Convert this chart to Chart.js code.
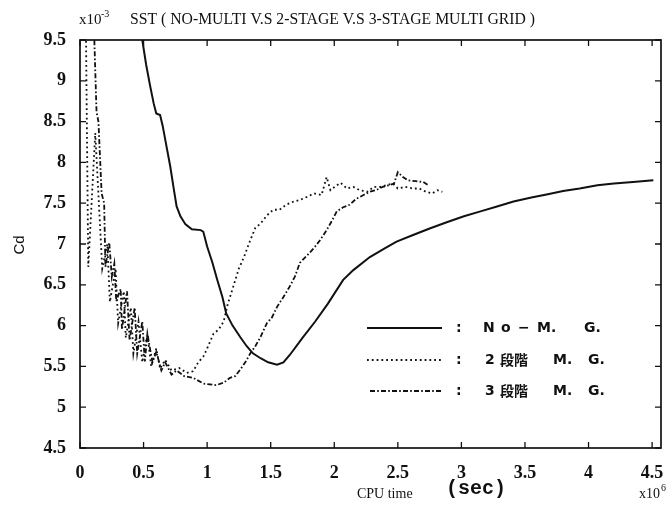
<!DOCTYPE html>
<html>
<head>
<meta charset="utf-8">
<script src="https://cdn.jsdelivr.net/npm/chart.js@4/dist/chart.umd.min.js"></script>
<style>
html,body{margin:0;padding:0;background:#fff;}
#wrap{position:relative;width:672px;height:509px;}
</style>
</head>
<body>
<div id="wrap"><canvas id="c" width="672" height="509"></canvas></div>
<script>
// ---- data ----
const xTickValues = [0, 0.5, 1, 1.5, 2, 2.5, 3, 3.5, 4, 4.5];
const xTickLabels = ['0', '0.5', '1', '1.5', '2', '2.5', '3', '3.5', '4', '4.5'];
const yTickValues = [4.5, 5, 5.5, 6, 6.5, 7, 7.5, 8, 8.5, 9, 9.5];
const yTickLabels = ['4.5', '5', '5.5', '6', '6.5', '7', '7.5', '8', '8.5', '9', '9.5'];

const seriesNames = ['N o − M.  G.', '2 段階  M.  G.', '3 段階  M.  G.'];

const noMgX = [0.48, 0.49, 0.52, 0.55, 0.58, 0.60, 0.63, 0.65, 0.68, 0.71, 0.74, 0.76, 0.79, 0.83, 0.88, 0.95, 0.97, 1.00, 1.04, 1.08, 1.12, 1.15, 1.20, 1.26, 1.31, 1.36, 1.42, 1.48, 1.55, 1.60, 1.65, 1.75, 1.85, 1.95, 2.07, 2.15, 2.28, 2.40, 2.49, 2.62, 2.75, 2.89, 3.02, 3.15, 3.28, 3.41, 3.55, 3.68, 3.80, 3.93, 4.07, 4.20, 4.35, 4.51];
const noMgY = [9.62, 9.50, 9.20, 8.95, 8.72, 8.60, 8.58, 8.45, 8.20, 7.95, 7.65, 7.46, 7.34, 7.24, 7.18, 7.17, 7.15, 6.97, 6.78, 6.56, 6.35, 6.15, 6.00, 5.86, 5.75, 5.66, 5.60, 5.55, 5.52, 5.55, 5.64, 5.85, 6.05, 6.27, 6.56, 6.68, 6.84, 6.95, 7.03, 7.11, 7.19, 7.27, 7.34, 7.40, 7.46, 7.52, 7.57, 7.61, 7.65, 7.68, 7.72, 7.74, 7.76, 7.78];

const stage2X = [0.045, 0.065, 0.12, 0.175, 0.215, 0.235, 0.28, 0.30, 0.345, 0.36, 0.40, 0.42, 0.46, 0.49, 0.53, 0.56, 0.60, 0.63, 0.67, 0.72, 0.78, 0.84, 0.89, 0.93, 0.97, 1.00, 1.05, 1.09, 1.13, 1.16, 1.21, 1.25, 1.29, 1.34, 1.38, 1.42, 1.47, 1.52, 1.57, 1.62, 1.68, 1.73, 1.79, 1.84, 1.90, 1.94, 1.97, 2.02, 2.05, 2.10, 2.15, 2.20, 2.26, 2.31, 2.36, 2.41, 2.46, 2.50, 2.56, 2.62, 2.67, 2.72, 2.77, 2.81, 2.85];
const stage2Y = [9.90, 6.72, 8.36, 6.70, 7.00, 6.29, 6.70, 6.03, 6.42, 5.85, 6.22, 5.66, 6.05, 5.55, 5.90, 5.50, 5.72, 5.47, 5.58, 5.45, 5.48, 5.42, 5.44, 5.55, 5.62, 5.72, 5.90, 5.95, 6.05, 6.25, 6.50, 6.70, 6.84, 7.05, 7.20, 7.25, 7.35, 7.42, 7.42, 7.48, 7.52, 7.54, 7.58, 7.62, 7.60, 7.82, 7.66, 7.72, 7.75, 7.68, 7.70, 7.66, 7.64, 7.70, 7.70, 7.72, 7.74, 7.68, 7.70, 7.68, 7.68, 7.64, 7.62, 7.66, 7.64];

const stage3X = [0.105, 0.13, 0.145, 0.17, 0.19, 0.20, 0.23, 0.25, 0.27, 0.285, 0.32, 0.33, 0.37, 0.39, 0.43, 0.45, 0.49, 0.51, 0.53, 0.57, 0.60, 0.64, 0.67, 0.72, 0.76, 0.82, 0.89, 0.97, 1.07, 1.13, 1.18, 1.22, 1.26, 1.30, 1.34, 1.38, 1.42, 1.47, 1.51, 1.55, 1.60, 1.65, 1.69, 1.73, 1.78, 1.84, 1.89, 1.94, 1.98, 2.02, 2.07, 2.12, 2.17, 2.23, 2.28, 2.33, 2.38, 2.43, 2.47, 2.50, 2.54, 2.58, 2.64, 2.70, 2.74];
const stage3Y = [9.90, 8.62, 8.50, 7.62, 7.50, 6.72, 7.02, 6.60, 6.76, 6.30, 6.45, 5.95, 6.42, 5.82, 6.22, 5.66, 6.05, 5.56, 5.90, 5.55, 5.68, 5.45, 5.55, 5.40, 5.45, 5.38, 5.36, 5.29, 5.27, 5.30, 5.36, 5.38, 5.46, 5.55, 5.66, 5.75, 5.86, 6.03, 6.10, 6.23, 6.35, 6.48, 6.60, 6.77, 6.85, 6.95, 7.05, 7.17, 7.28, 7.40, 7.45, 7.48, 7.55, 7.60, 7.64, 7.66, 7.70, 7.72, 7.74, 7.88, 7.82, 7.78, 7.77, 7.76, 7.72];

const pts = (xs, ys) => xs.map((x, i) => ({ x: x, y: ys[i] }));

const INK = '#111';
const SERIF = '"Liberation Serif", "DejaVu Serif", serif';

const styles = [
  { borderWidth: 2, borderDash: [] },
  { borderWidth: 1.8, borderDash: [1.8, 3] },
  { borderWidth: 1.8, borderDash: [5, 2.2, 1.6, 2.2] }
];

const decorations = {
  id: 'decorations',
  afterDraw(chart) {
    const ctx = chart.ctx;
    const a = chart.chartArea;
    const xs = chart.scales.x, ys = chart.scales.y;
    ctx.save();
    // frame
    ctx.strokeStyle = INK;
    ctx.lineWidth = 1.7;
    ctx.setLineDash([]);
    ctx.strokeRect(a.left, a.top, a.right - a.left, a.bottom - a.top);
    // inward ticks
    ctx.lineWidth = 1.3;
    ctx.beginPath();
    xTickValues.forEach(v => {
      const p = xs.getPixelForValue(v);
      ctx.moveTo(p, a.bottom); ctx.lineTo(p, a.bottom - 6);
      ctx.moveTo(p, a.top); ctx.lineTo(p, a.top + 6);
    });
    yTickValues.forEach(v => {
      const p = ys.getPixelForValue(v);
      ctx.moveTo(a.left, p); ctx.lineTo(a.left + 6, p);
      ctx.moveTo(a.right, p); ctx.lineTo(a.right - 6, p);
    });
    ctx.stroke();

    // title and exponent
    ctx.fillStyle = INK;
    ctx.textBaseline = 'alphabetic';
    ctx.textAlign = 'left';
    ctx.font = '15px ' + SERIF;
    ctx.fillText('x10', 79, 24);
    ctx.font = '10px ' + SERIF;
    ctx.fillText('-3', 101, 17);
    ctx.font = '16px ' + SERIF;
    const title = 'SST ( NO-MULTI V.S 2-STAGE V.S 3-STAGE MULTI GRID )';
    const w = ctx.measureText(title).width;
    const target = 405;
    ctx.save();
    ctx.translate(130, 24);
    ctx.scale(target / w, 1);
    ctx.fillText(title, 0, 0);
    ctx.restore();

    // y-axis title
    ctx.save();
    ctx.translate(24, 245);
    ctx.rotate(-Math.PI / 2);
    ctx.textAlign = 'center';
    ctx.font = '15px "Liberation Sans", Arial, sans-serif';
    ctx.fillText('Cd', 0, 0);
    ctx.restore();

    // x-axis title pieces
    ctx.font = '14px ' + SERIF;
    ctx.fillText('CPU time', 357, 498);
    ctx.font = 'bold 20px "Liberation Mono", "DejaVu Sans Mono", monospace';
    ctx.fillText('(sec)', 446, 494);
    ctx.font = '14px ' + SERIF;
    ctx.fillText('x10', 639, 498);
    ctx.font = '10px ' + SERIF;
    ctx.fillText('6', 661, 491);

    // legend
    const rows = [328, 360, 391];
    const lx0 = [367, 367, 370], lx1 = 442;
    rows.forEach((y, i) => {
      ctx.beginPath();
      ctx.lineWidth = styles[i].borderWidth;
      ctx.setLineDash(styles[i].borderDash);
      ctx.moveTo(lx0[i], y); ctx.lineTo(lx1, y);
      ctx.stroke();
    });
    ctx.setLineDash([]);
    ctx.font = 'bold 14px "DejaVu Sans", "Noto Sans CJK JP", sans-serif';
    ctx.textBaseline = 'middle';
    rows.forEach(y => ctx.fillText(':', 456, y));
    const jp = 'bold 14px "Noto Sans CJK JP", sans-serif';
    const lat = 'bold 14px "DejaVu Sans", sans-serif';
    const parts = [
      [['N', 483], ['o', 501], ['−', 518], ['M.', 537], ['G.', 584]],
      [['2', 485], ['段階', 500], ['M.', 553], ['G.', 588]],
      [['3', 485], ['段階', 500], ['M.', 553], ['G.', 588]]
    ];
    parts.forEach((row, i) => {
      row.forEach(([t, x]) => {
        ctx.font = /[\u3000-\u9fff]/.test(t) ? jp : lat;
        ctx.fillText(t, x, rows[i]);
      });
    });
    ctx.restore();
  }
};

new Chart(document.getElementById('c'), {
  type: 'line',
  data: {
    datasets: [
      { label: seriesNames[0], data: pts(noMgX, noMgY), borderColor: INK, borderWidth: styles[0].borderWidth, borderDash: styles[0].borderDash, pointRadius: 0, tension: 0, fill: false },
      { label: seriesNames[1], data: pts(stage2X, stage2Y), borderColor: INK, borderWidth: styles[1].borderWidth, borderDash: styles[1].borderDash, pointRadius: 0, tension: 0, fill: false },
      { label: seriesNames[2], data: pts(stage3X, stage3Y), borderColor: INK, borderWidth: styles[2].borderWidth, borderDash: styles[2].borderDash, pointRadius: 0, tension: 0, fill: false }
    ]
  },
  options: {
    responsive: false,
    animation: false,
    events: [],
    layout: { padding: { left: 0, top: 40, right: 11, bottom: 0 } },
    plugins: { legend: { display: false }, tooltip: { enabled: false }, title: { display: false } },
    scales: {
      x: {
        type: 'linear', min: 0, max: 4.57,
        grid: { display: false },
        border: { display: false },
        afterBuildTicks: s => { s.ticks = xTickValues.map(v => ({ value: v })); },
        afterFit: s => { s.height = 61; },
        ticks: {
          color: INK, padding: 7, maxRotation: 0, autoSkip: false,
          font: { family: SERIF, size: 18, weight: 'bold' },
          callback: (v) => { const i = xTickValues.indexOf(v); return i >= 0 ? xTickLabels[i] : ''; }
        }
      },
      y: {
        type: 'linear', min: 4.5, max: 9.5,
        grid: { display: false },
        border: { display: false },
        afterBuildTicks: s => { s.ticks = yTickValues.map(v => ({ value: v })); },
        afterFit: s => { s.width = 80; },
        ticks: {
          color: INK, padding: 6, autoSkip: false,
          font: { family: SERIF, size: 18, weight: 'bold' },
          callback: (v) => { const i = yTickValues.indexOf(v); return i >= 0 ? yTickLabels[i] : ''; }
        }
      }
    }
  },
  plugins: [decorations]
});
</script>
</body>
</html>
